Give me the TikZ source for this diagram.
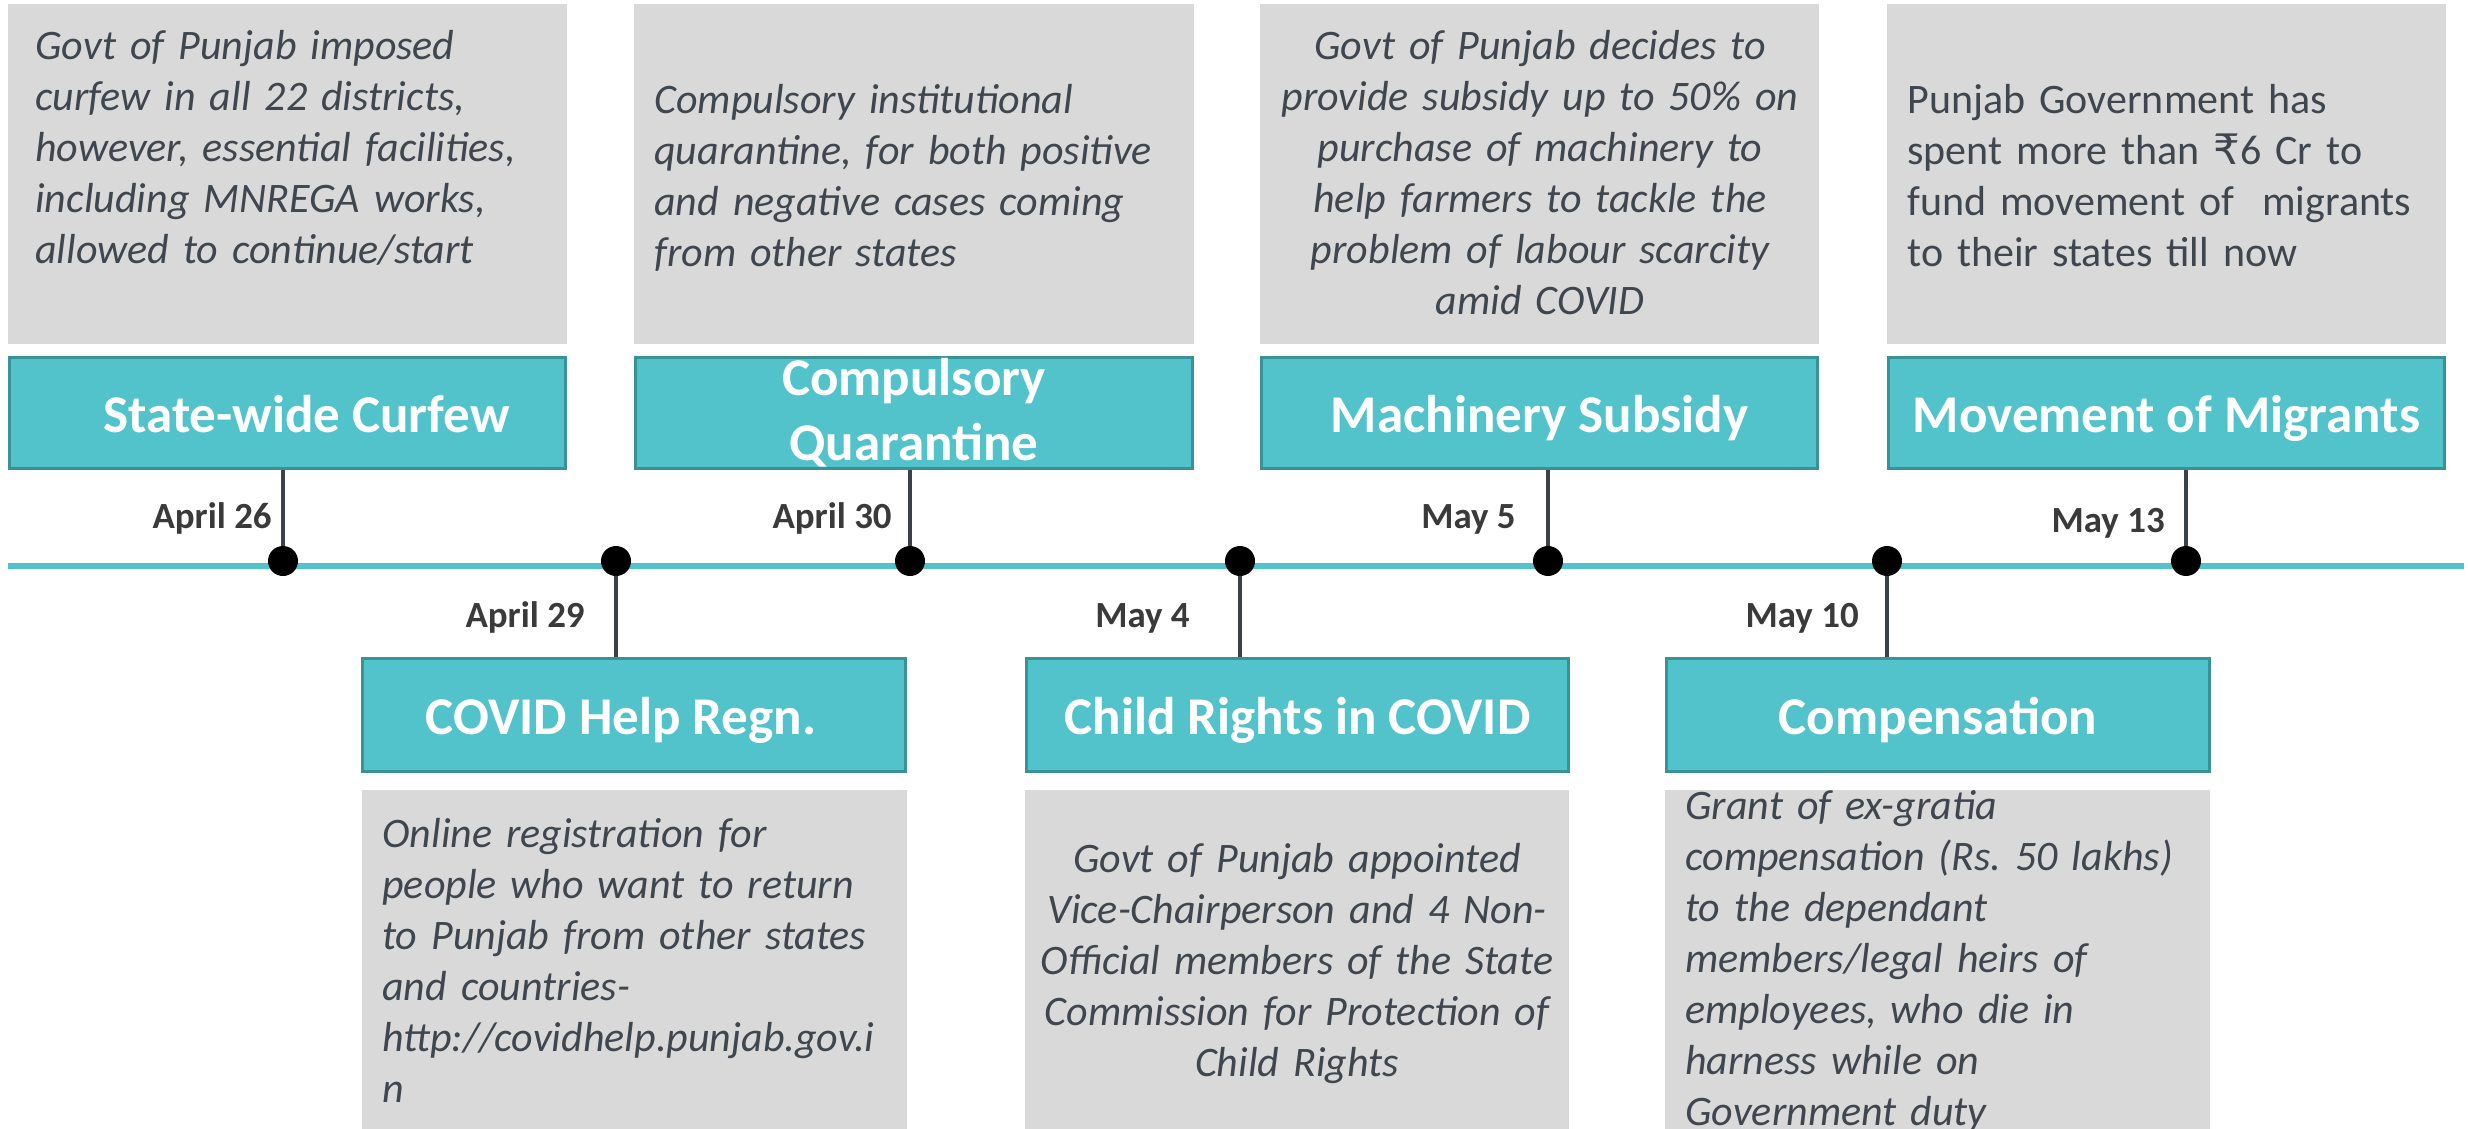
\documentclass[tikz,border=0pt]{standalone}
\usepackage{fontspec}
\setmainfont{Carlito}
\newfontfamily\rupeefont{DejaVu Sans}
\frenchspacing
\definecolor{TealFill}{RGB}{82,195,203}
\definecolor{TealEdge}{RGB}{58,146,153}
\definecolor{NoteGray}{RGB}{217,217,217}
\definecolor{NoteText}{RGB}{64,70,78}
\definecolor{DateText}{RGB}{58,58,58}
\definecolor{StemLine}{RGB}{59,66,73}

\begin{document}
\begin{tikzpicture}[x=0.02cm,y=-0.02cm,
  note/.style={fill=NoteGray, inner sep=0pt, minimum width=11.2cm, minimum height=6.8cm},
  lownote/.style={note, minimum width=10.9cm, minimum height=7.2cm},
  event/.style={fill=TealFill, draw=TealEdge, line width=1.7pt, text=white, inner sep=0pt,
    minimum width=11.14cm, minimum height=2.22cm, font=\bfseries\fontsize{30.2}{37}\selectfont},
  oneline/.style={text height=0.76cm, text depth=0pt},
  lowevent/.style={event, minimum width=10.86cm, minimum height=2.26cm},
  desc/.style={inner sep=0pt, text=NoteText, align=left, text width=10.6cm,
    font=\itshape\fontsize{23.9}{29.1}\selectfont},
  daylabel/.style={inner sep=0pt, text=DateText, anchor=base east,
    font=\bfseries\fontsize{21}{25}\selectfont},
  milestone/.style={circle, fill=black, inner sep=0pt, minimum size=0.6cm},
  stem/.style={draw=StemLine, line width=2.3pt}]

\useasboundingbox (0,0) rectangle (2468,1129);

\node[note] (G1) at (287.5,174) {};
\node[note] (G2) at (914,174) {};
\node[note] (G3) at (1539.5,174) {};
\node[note] (G4) at (2166.5,174) {};
\node[lownote] (G5) at (634.5,970) {};
\node[lownote] (G6) at (1297,970) {};
\node[lownote] (G7) at (1937.5,970) {};

\node[event, oneline] (E1) at (287.5,413) {\hspace*{0.76cm}State-wide Curfew};
\node[event, align=center] (E2) at (914,413) {Compulsory\\Quarantine};
\node[event, oneline] (E3) at (1539.5,413) {Machinery Subsidy};
\node[event, oneline] (E4) at (2166.5,413) {Movement of Migrants};
\node[lowevent, oneline] (E5) at (634,715) {COVID Help Regn.\hspace*{0.52cm}};
\node[lowevent, oneline] (E6) at (1297.5,715) {Child Rights in COVID};
\node[lowevent, oneline] (E7) at (1938,715) {Compensation};

\coordinate (L0) at (8,566);
\coordinate (L1) at (2464,566);
\draw[TealFill, line width=3.4pt] (L0) -- (L1);

\node[milestone] (D1) at (283,561) {};
\node[milestone] (D2) at (616,561) {};
\node[milestone] (D3) at (910,561) {};
\node[milestone] (D4) at (1240,561) {};
\node[milestone] (D5) at (1548,561) {};
\node[milestone] (D6) at (1887,561) {};
\node[milestone] (D7) at (2186,561) {};

\draw[stem] (E1.south -| D1) -- (D1.north);
\draw[stem] (E2.south -| D3) -- (D3.north);
\draw[stem] (E3.south -| D5) -- (D5.north);
\draw[stem] (E4.south -| D7) -- (D7.north);
\draw[stem] (D2.south) -- (E5.north -| D2);
\draw[stem] (D4.south) -- (E6.north -| D4);
\draw[stem] (D6.south) -- (E7.north -| D6);

\node[daylabel] (A1) at (272,528) {April 26};
\node[daylabel] (A2) at (585,627) {April 29};
\node[daylabel] (A3) at (892,528) {April 30};
\node[daylabel] (A4) at (1190,627) {May 4};
\node[daylabel] (A5) at (1516,528) {May 5};
\node[daylabel] (A6) at (1859,627) {May 10};
\node[daylabel] (A7) at (2165,532) {May 13};

\node[desc, anchor=base west] (N1) at (35,59) {Govt of Punjab imposed\\curfew in all 22 districts,\\however, essential facilities,\\including MNREGA works,\\allowed to continue/start};
\node[desc, anchor=base west] (N2) at (654,113) {Compulsory institutional\\quarantine, for both positive\\and negative cases coming\\from other states};
\node[desc, align=center, anchor=base] (N3) at (1540,59) {Govt of Punjab decides to\\provide subsidy up to 50\% on\\purchase of machinery to\\help farmers to tackle the\\problem of labour scarcity\\amid COVID};
\node[desc, anchor=base west, font=\fontsize{23.9}{29.1}\selectfont] (N4) at (1907,113) {Punjab Government has\\spent more than {\rupeefont ₹}6 Cr to\\fund movement of\ \ migrants\\to their states till now};
\node[desc, anchor=base west] (N5) at (382,847) {Online registration for\\people who want to return\\to Punjab from other states\\and countries-\\http://covidhelp.punjab.gov.i\\n};
\node[desc, align=center, anchor=base] (N6) at (1297,872) {Govt of Punjab appointed\\Vice-Chairperson and 4 Non-\\Official members of the State\\Commission for Protection of\\Child Rights};
\node[desc, anchor=base west] (N7) at (1685,819) {Grant of ex-gratia\\compensation (Rs. 50 lakhs)\\to the dependant\\members/legal heirs of\\employees, who die in\\harness while on\\Government duty};
\end{tikzpicture}
\end{document}
